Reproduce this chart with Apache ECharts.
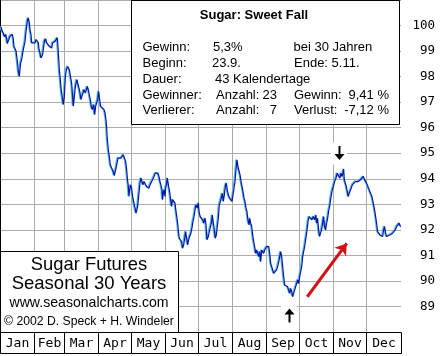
<!DOCTYPE html>
<html><head><meta charset="utf-8">
<script src="https://cdn.jsdelivr.net/npm/echarts@6/dist/echarts.min.js"></script>
<style>html,body{margin:0;padding:0;background:#fff}#c{width:445px;height:356px}</style>
</head><body><div id="c"></div>
<script>
const days = [1,1.5,3,4.2,5.2,6.1,6.7,9.1,11.2,12.1,12.7,13.7,14.6,15.8,16.7,17.6,18.8,19.7,21.2,22.1,22.8,23.7,24.3,24.9,25.8,26.7,27.3,28.2,28.8,30.3,31.9,32.8,34,34.9,35.5,36.4,37.3,38.2,38.8,39.4,40.4,41.6,42.5,44,44.9,46.1,47,47.9,49.2,50.1,51.6,52.2,53.1,54,54.9,55.5,56.1,57,57.6,58.6,59.5,60.4,61.6,62.5,63.1,64.3,65.2,66.1,66.7,67.4,68.3,69.2,70.1,71,71.9,72.8,73.7,74.6,75.5,76.5,77.7,78.6,79.5,80.4,81.3,82.2,83.1,84,85.3,86.2,87.1,88,88.9,89.8,90.7,91.6,92.5,93.4,94.7,95.6,96.5,97.1,
97.7,98.6,99.5,100.4,101.6,103.1,104,105.3,106.2,107.4,108.3,109.2,110.1,111,112.2,113.5,114.4,115.3,115.9,116.8,117.4,118,118.9,119.8,120.7,121.9,122.9,123.8,124.7,125.3,126.2,127.4,128.3,129.2,130.1,131.1,132.3,133.5,134.4,135.6,136.5,137.4,138.9,140.2,141.4,142.6,143.8,144.7,145.6,146.5,147.4,148,148.6,149.3,150.2,150.8,151.7,152.3,152.9,153.5,154.4,155.3,156.2,157.1,158.4,159.3,160.2,161.1,161.7,162.6,163.2,164.4,165.3,166.2,167.2,168.1,169,169.9,170.8,171.7,172.6,173.8,174.7,175.7,176.6,177.5,178.4,179.6,180.5,181.4,182.3,183.2,184.5,185.4,186.6,187.5,188.4,
189.6,190.5,191.5,192.4,193.3,194.2,195.1,196,196.9,197.8,198.7,199.6,200.6,201.5,202.4,203.3,204.2,205.1,206,206.9,207.8,209.1,210.3,211.2,212.1,213,213.9,214.8,215.7,216.6,217.5,218.5,219.4,220.3,221.2,222.1,223,223.9,224.8,225.7,226.7,227.3,228.2,229.1,230,230.9,231.8,232.7,233.6,234.5,235.5,236.4,237.3,238.2,239.1,240,240.9,241.8,242.7,243.6,244.6,245.5,246.4,247.3,248.2,249.1,250,250.9,251.8,252.7,253.7,254.6,255.5,256.4,257.3,258.2,259.1,260,260.9,261.8,262.8,263.7,264.6,265.5,266.4,267.3,268.2,269.1,270,271,271.9,272.8,273.7,274.6,275.5,276.4,277.3,
279.1,280.6,281.5,282.7,283.9,285.2,286.4,287.6,288.2,289.1,290,290.9,291.8,292.7,293.7,294.6,295.5,296.4,297.3,298.2,299.1,300,300.9,302.1,303.4,304.6,305.8,307,308.2,309.4,310.3,311.2,312.2,312.8,313.4,314.3,315.2,316.1,317,317.9,318.8,319.7,320.7,321.6,322.5,323.4,324.3,325.2,326.1,327,328.2,329.5,330.7,331.9,332.8,333.7,334.9,336.1,337.3,338.6,339.8,341,341.9,342.8,343.7,344.6,345.8,347.1,348.3,349.2,350.1,351,351.9,352.8,353.7,354.9,356.2,357.4,358.6,359.8,361,362.2,363.4,364.3,365];
const values = [99.95,99.84,99.71,99.56,99.65,99.48,99.29,99.58,99.65,99.48,99.19,99.09,99.0,98.6,98.21,98.01,98.54,98.67,99.06,99.0,99.38,99.78,99.71,100.17,100.30,100.1,99.84,99.65,99.32,99.38,99.32,99.45,99.48,99.32,99.06,98.93,98.73,98.67,98.86,99.06,99.38,99.48,99.32,99.38,99.19,99.25,99.12,99.32,99.32,99.38,99.45,99.52,98.93,98.27,97.88,97.56,97.36,97.1,96.9,97.23,98.01,98.27,98.4,98.47,98.27,98.21,97.75,97.23,96.84,97.1,97.49,97.75,97.88,97.69,97.56,97.36,97.1,97.23,97.36,97.49,97.36,97.49,97.62,97.49,97.29,97.1,96.84,96.71,96.9,96.51,96.84,96.97,97.1,97.42,97.1,96.84,96.9,96.84,96.71,96.58,96.31,95.99,
95.53,95.14,94.88,94.55,94.42,94.29,94.12,94.35,94.42,94.81,94.88,94.75,94.81,94.88,94.94,94.88,94.68,94.35,94.03,93.70,93.31,93.57,93.76,93.63,93.31,93.05,92.85,92.65,92.65,92.92,93.31,93.83,94.03,93.96,93.76,93.89,93.83,93.70,93.76,93.63,93.76,93.83,93.96,94.09,94.22,94.29,94.22,94.09,93.89,93.76,93.57,93.18,93.44,93.57,93.31,93.63,93.83,94.03,93.96,93.70,93.50,93.18,92.92,93.18,93.24,93.05,92.72,92.46,92.26,91.87,91.67,91.74,91.54,91.28,91.41,91.67,91.93,91.67,91.41,91.61,91.74,91.87,92.07,92.33,92.52,92.78,92.98,92.85,93.05,92.65,92.52,92.59,92.39,92.26,92.46,92.20,91.61,
91.73,91.93,91.87,92.26,92.58,92.26,91.99,91.67,91.80,92.13,92.45,92.98,93.11,93.17,93.43,93.11,93.37,93.70,93.83,93.56,93.37,93.24,93.17,93.11,93.37,93.63,93.89,94.35,94.74,94.48,94.41,94.15,93.89,93.70,93.50,93.24,93.11,92.85,92.72,92.39,92.19,92.45,92.26,92.13,91.80,91.54,91.34,91.08,91.21,91.28,90.95,91.15,90.75,91.21,91.15,91.08,91.21,91.28,91.34,91.41,91.34,91.08,90.69,90.56,90.43,90.30,90.23,90.30,90.43,90.56,90.75,90.69,91.15,90.95,90.56,90.17,89.84,89.81,89.81,89.77,89.64,89.51,89.71,89.58,89.38,89.51,89.64,89.77,89.90,90.04,89.90,90.17,90.36,90.56,90.95,91.15,91.34,
91.87,92.39,92.52,92.45,92.39,92.52,92.39,92.58,92.26,92.45,92.00,91.74,91.87,92.00,92.26,92.52,92.13,92.00,92.26,92.45,92.72,92.91,93.17,93.50,93.70,93.89,94.02,94.22,94.15,94.02,94.22,94.09,94.22,94.38,93.96,93.89,93.70,93.50,93.30,93.43,93.50,93.63,93.76,93.83,93.76,93.89,93.96,93.83,93.89,93.96,93.96,94.02,94.09,93.96,93.89,93.83,93.70,93.56,93.50,93.30,93.04,92.78,92.52,92.26,91.93,91.87,91.80,91.80,91.74,92.00,92.13,91.87,91.74,91.67,91.74,91.80,91.80,91.87,91.87,92.00,92.13,92.19,92.26,92.15,92.13];
const monthNames = ['Jan','Feb','Mar','Apr','May','Jun','Jul','Aug','Sep','Oct','Nov','Dec'];
const monthStarts = [0,31,59,90,120,151,181,212,243,273,304,334,365];
const yMin = 88, yMax = 101;
const turnDays = [263.3, 308.6];
const turnValues = [88.65, 95.01];
const turnDirs = ['up', 'down'];
const trendFrom = [279.7, 89.38];
const trendTo = [315.6, 91.47];

const lineData = days.map((d, i) => [d, values[i]]);
const monthData = monthNames.map((n, i) => [monthStarts[i], monthStarts[i + 1], yMin]);
const turnData = turnDays.map((d, i) => [d, turnValues[i]]);

const chart = echarts.init(document.getElementById('c'), null, {renderer: 'canvas'});
const sans = '"Liberation Sans", Arial, sans-serif';
const mono = '"DejaVu Sans Mono", monospace';
function snap(v) { return Math.round(v - 0.5) + 0.5; }

chart.setOption({
  animation: false,
  backgroundColor: '#fff',
  grid: {left: 0, top: 0, width: 401, height: 332, containLabel: false, outerBoundsMode: 'none'},
  xAxis: {type: 'value', min: 0, max: 365, show: true,
    axisLine: {show: false}, axisTick: {show: false}, axisLabel: {show: false}, splitLine: {show: false}},
  yAxis: [{type: 'value', position: 'right', min: yMin, max: yMax, interval: 1,
    axisLine: {show: true, lineStyle: {color: '#000', width: 1}},
    axisTick: {show: false},
    splitLine: {show: true, lineStyle: {color: '#ababab', width: 1}},
    axisLabel: {show: true, margin: 34, align: 'right', color: '#000', fontFamily: mono, fontSize: 12.5,
      formatter: v => (v >= 89 && v <= 100) ? String(v) : ''}},
    {type: 'value', position: 'left', min: yMin, max: yMax, interval: 1,
    axisLine: {show: true, onZero: false, lineStyle: {color: '#000', width: 1}},
    axisTick: {show: false}, axisLabel: {show: false}, splitLine: {show: false}}],
  series: [
    {type: 'custom', name: 'months', clip: false, silent: true, z: 1,
      data: monthData, encode: {x: [0, 1], y: 2},
      renderItem: function (params, api) {
        const cs = params.coordSys;
        const x0 = snap(api.coord([api.value(0), yMin])[0]);
        const x1 = snap(api.coord([api.value(1), yMin])[0]);
        const top = cs.y, bottom = cs.y + cs.height;
        const children = [];
        if (params.dataIndex > 0) {
          children.push({type: 'line', shape: {x1: x0, y1: top, x2: x0, y2: bottom},
            style: {stroke: '#ababab', lineWidth: 1}, z2: 1});
        }
        children.push({type: 'rect', shape: {x: x0, y: snap(bottom), width: x1 - x0, height: 21},
          style: {fill: '#fff', stroke: '#000', lineWidth: 1}, z2: 5});
        children.push({type: 'text', style: {text: monthNames[params.dataIndex], x: (x0 + x1) / 2, y: bottom + 11.5,
          align: 'center', verticalAlign: 'middle', font: '13px ' + mono, fill: '#000'}, z2: 6});
        return {type: 'group', children: children};
      }},
    {type: 'line', name: 'Sugar', data: lineData, showSymbol: false, z: 3,
      lineStyle: {color: '#0c12a6', width: 1.2, shadowColor: '#4cc0dc', shadowBlur: 0, shadowOffsetX: -1, shadowOffsetY: -0.5}},
    {type: 'lines', coordinateSystem: 'cartesian2d', z: 4, silent: true,
      symbol: ['none', 'arrow'], symbolSize: 11,
      lineStyle: {color: '#d01414', width: 3, opacity: 1, curveness: 0},
      data: [{coords: [trendFrom, trendTo]}]},
    {type: 'custom', name: 'turns', clip: false, silent: true, z: 5,
      data: turnData,
      renderItem: function (params, api) {
        const p = api.coord([api.value(0), api.value(1)]);
        const cx = Math.round(p[0]) + 0.5, cy = p[1];
        const dir = turnDirs[params.dataIndex];
        const bg = {type: 'rect', shape: {x: cx - 8.5, y: cy - 10.5, width: 16, height: 22}, style: {fill: '#fff'}};
        let shaft, head;
        if (dir === 'down') {
          shaft = {type: 'rect', shape: {x: cx - 1, y: cy - 7, width: 2, height: 10}, style: {fill: '#000'}};
          head = {type: 'polygon', shape: {points: [[cx - 5, cy + 1], [cx + 5, cy + 1], [cx, cy + 7]]}, style: {fill: '#000'}};
        } else {
          shaft = {type: 'rect', shape: {x: cx - 1, y: cy - 3, width: 2, height: 10}, style: {fill: '#000'}};
          head = {type: 'polygon', shape: {points: [[cx - 5, cy - 1], [cx + 5, cy - 1], [cx, cy - 7]]}, style: {fill: '#000'}};
        }
        return {type: 'group', children: [bg, shaft, head]};
      }}
  ],
  graphic: [
    {type: 'rect', z: 100, shape: {x: 131.5, y: 0.5, width: 268, height: 124}, style: {fill: '#fff', stroke: '#000', lineWidth: 1}},
    {type: 'text', z: 101, style: {text: 'Sugar: Sweet Fall', x: 254, y: 15, align: 'center', verticalAlign: 'middle', font: 'bold 13px ' + sans, fill: '#000'}},
    {type: 'text', z: 101, style: {text: 'Gewinn:', x: 142.5, y: 47, verticalAlign: 'middle', font: '13px ' + sans, fill: '#000'}},
    {type: 'text', z: 101, style: {text: '5,3%', x: 213, y: 47, verticalAlign: 'middle', font: '13px ' + sans, fill: '#000'}},
    {type: 'text', z: 101, style: {text: 'bei 30 Jahren', x: 293.5, y: 47, verticalAlign: 'middle', font: '13px ' + sans, fill: '#000'}},
    {type: 'text', z: 101, style: {text: 'Beginn:', x: 142.5, y: 63, verticalAlign: 'middle', font: '13px ' + sans, fill: '#000'}},
    {type: 'text', z: 101, style: {text: '23.9.', x: 212, y: 63, verticalAlign: 'middle', font: '13px ' + sans, fill: '#000'}},
    {type: 'text', z: 101, style: {text: 'Ende: 5.11.', x: 294, y: 63, verticalAlign: 'middle', font: '13px ' + sans, fill: '#000'}},
    {type: 'text', z: 101, style: {text: 'Dauer:', x: 142.5, y: 79, verticalAlign: 'middle', font: '13px ' + sans, fill: '#000'}},
    {type: 'text', z: 101, style: {text: '43', x: 215, y: 79, verticalAlign: 'middle', font: '13px ' + sans, fill: '#000'}},
    {type: 'text', z: 101, style: {text: 'Kalendertage', x: 233, y: 79, verticalAlign: 'middle', font: '13px ' + sans, fill: '#000'}},
    {type: 'text', z: 101, style: {text: 'Gewinner:', x: 142.5, y: 95, verticalAlign: 'middle', font: '13px ' + sans, fill: '#000'}},
    {type: 'text', z: 101, style: {text: 'Anzahl:', x: 216, y: 95, verticalAlign: 'middle', font: '13px ' + sans, fill: '#000'}},
    {type: 'text', z: 101, style: {text: '23', x: 277, y: 95, align: 'right', verticalAlign: 'middle', font: '13px ' + sans, fill: '#000'}},
    {type: 'text', z: 101, style: {text: 'Gewinn:', x: 294, y: 95, verticalAlign: 'middle', font: '13px ' + sans, fill: '#000'}},
    {type: 'text', z: 101, style: {text: '9,41 %', x: 389, y: 95, align: 'right', verticalAlign: 'middle', font: '13px ' + sans, fill: '#000'}},
    {type: 'text', z: 101, style: {text: 'Verlierer:', x: 142.5, y: 110.5, verticalAlign: 'middle', font: '13px ' + sans, fill: '#000'}},
    {type: 'text', z: 101, style: {text: 'Anzahl:', x: 216, y: 110.5, verticalAlign: 'middle', font: '13px ' + sans, fill: '#000'}},
    {type: 'text', z: 101, style: {text: '7', x: 277, y: 110.5, align: 'right', verticalAlign: 'middle', font: '13px ' + sans, fill: '#000'}},
    {type: 'text', z: 101, style: {text: 'Verlust:', x: 294, y: 110.5, verticalAlign: 'middle', font: '13px ' + sans, fill: '#000'}},
    {type: 'text', z: 101, style: {text: '-7,12 %', x: 389, y: 110.5, align: 'right', verticalAlign: 'middle', font: '13px ' + sans, fill: '#000'}},

    {type: 'rect', z: 100, shape: {x: 0.5, y: 251.5, width: 178, height: 81}, style: {fill: '#fff', stroke: '#000', lineWidth: 1}},
    {type: 'text', z: 101, style: {text: 'Sugar Futures', x: 89, y: 264.5, align: 'center', verticalAlign: 'middle', font: '18.4px ' + sans, fill: '#000'}},
    {type: 'text', z: 101, style: {text: 'Seasonal 30 Years', x: 89, y: 284, align: 'center', verticalAlign: 'middle', font: '18.5px ' + sans, fill: '#000'}},
    {type: 'text', z: 101, style: {text: 'www.seasonalcharts.com', x: 89, y: 303.5, align: 'center', verticalAlign: 'middle', font: '14.1px ' + sans, fill: '#000'}},
    {type: 'text', z: 101, style: {text: '© 2002 D. Speck + H. Windeler', x: 89, y: 321.5, align: 'center', verticalAlign: 'middle', font: '12.2px ' + sans, fill: '#000'}}
  ]
});
</script></body></html>
